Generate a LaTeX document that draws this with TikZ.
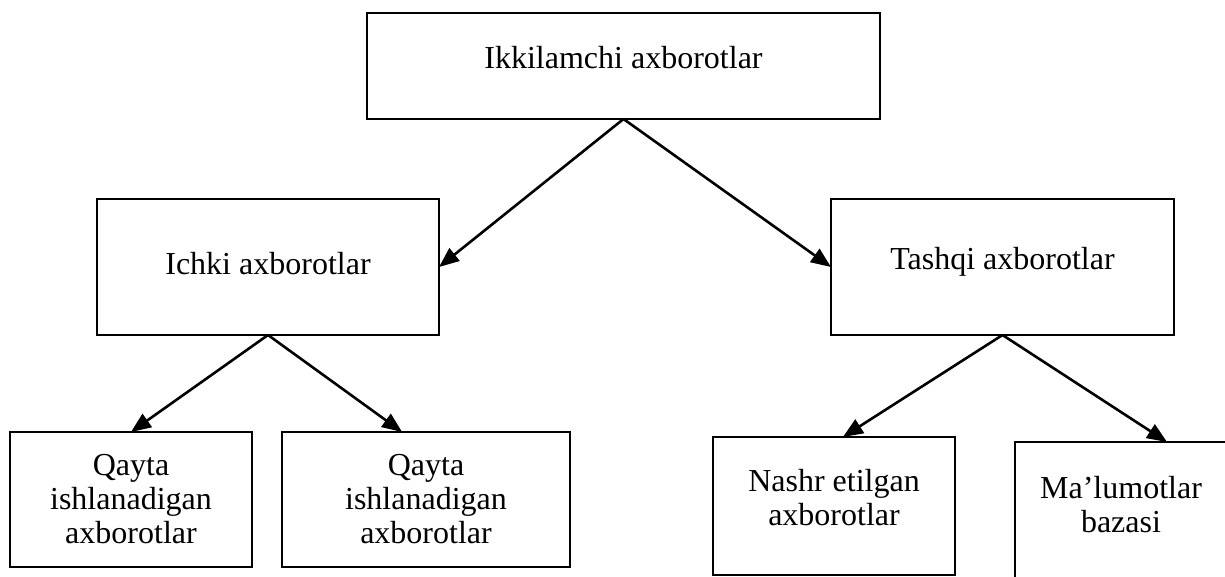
\documentclass[tikz,border=0pt]{standalone}
\usepackage{fontspec}
\setmainfont{Liberation Serif}
\usetikzlibrary{arrows.meta,calc}
\begin{document}
\begin{tikzpicture}[x=0.5pt,y=-0.5pt,
  box/.style={draw, line width=1.4pt, rectangle, inner sep=0pt, outer sep=0pt},
  boxtext/.style={align=center, font=\fontsize{16}{17}\selectfont, inner sep=0pt},
  link/.style={line width=1.3pt, -{Triangle[length=10pt,width=8pt]}}]
\clip (0,0) rectangle (1225,577);

% boxes
\node[box, minimum width=256.5pt, minimum height=53pt] (top) at (623.5,66) {};
\node[box, minimum width=171pt, minimum height=68pt] (ichki) at (268,267) {};
\node[box, minimum width=171.5pt, minimum height=68pt] (tashqi) at (1002.5,267) {};
\node[box, minimum width=121pt, minimum height=67.5pt] (b1) at (131,499.5) {};
\node[box, minimum width=144pt, minimum height=67.5pt] (b2) at (426,499.5) {};
\node[box, minimum width=121pt, minimum height=69pt] (nashr) at (834,506) {};
\node[box, minimum width=115pt, minimum height=79pt] (malum) at (1130,521) {};

% texts
\node[boxtext] (top-t) at (623.5,58) {Ikkilamchi axborotlar};
\node[boxtext] (ichki-t) at (268,264) {Ichki axborotlar};
\node[boxtext] (tashqi-t) at (1002.5,262) {Tashqi axborotlar};
\node[boxtext] (b1-t) at (131,499) {Qayta\\ishlanadigan\\axborotlar};
\node[boxtext] (b2-t) at (426,499) {Qayta\\ishlanadigan\\axborotlar};
\node[boxtext] (nashr-t) at (834,498) {Nashr etilgan\\axborotlar};
\node[boxtext] (malum-t) at (1121,505) {Ma’lumotlar\\bazasi};

% connectors
\draw[link] (top.south) -- (ichki.east);
\draw[link] (top.south) -- (tashqi.west);
\draw[link] (ichki.south) -- (b1.north);
\draw[link] (ichki.south) -- ($(b2.north west)!0.417!(b2.north east)$);
\draw[link] (tashqi.south) -- ($(nashr.north west)!0.537!(nashr.north east)$);
\draw[link] (tashqi.south) -- ($(malum.north west)!0.661!(malum.north east)$);
\end{tikzpicture}
\end{document}
